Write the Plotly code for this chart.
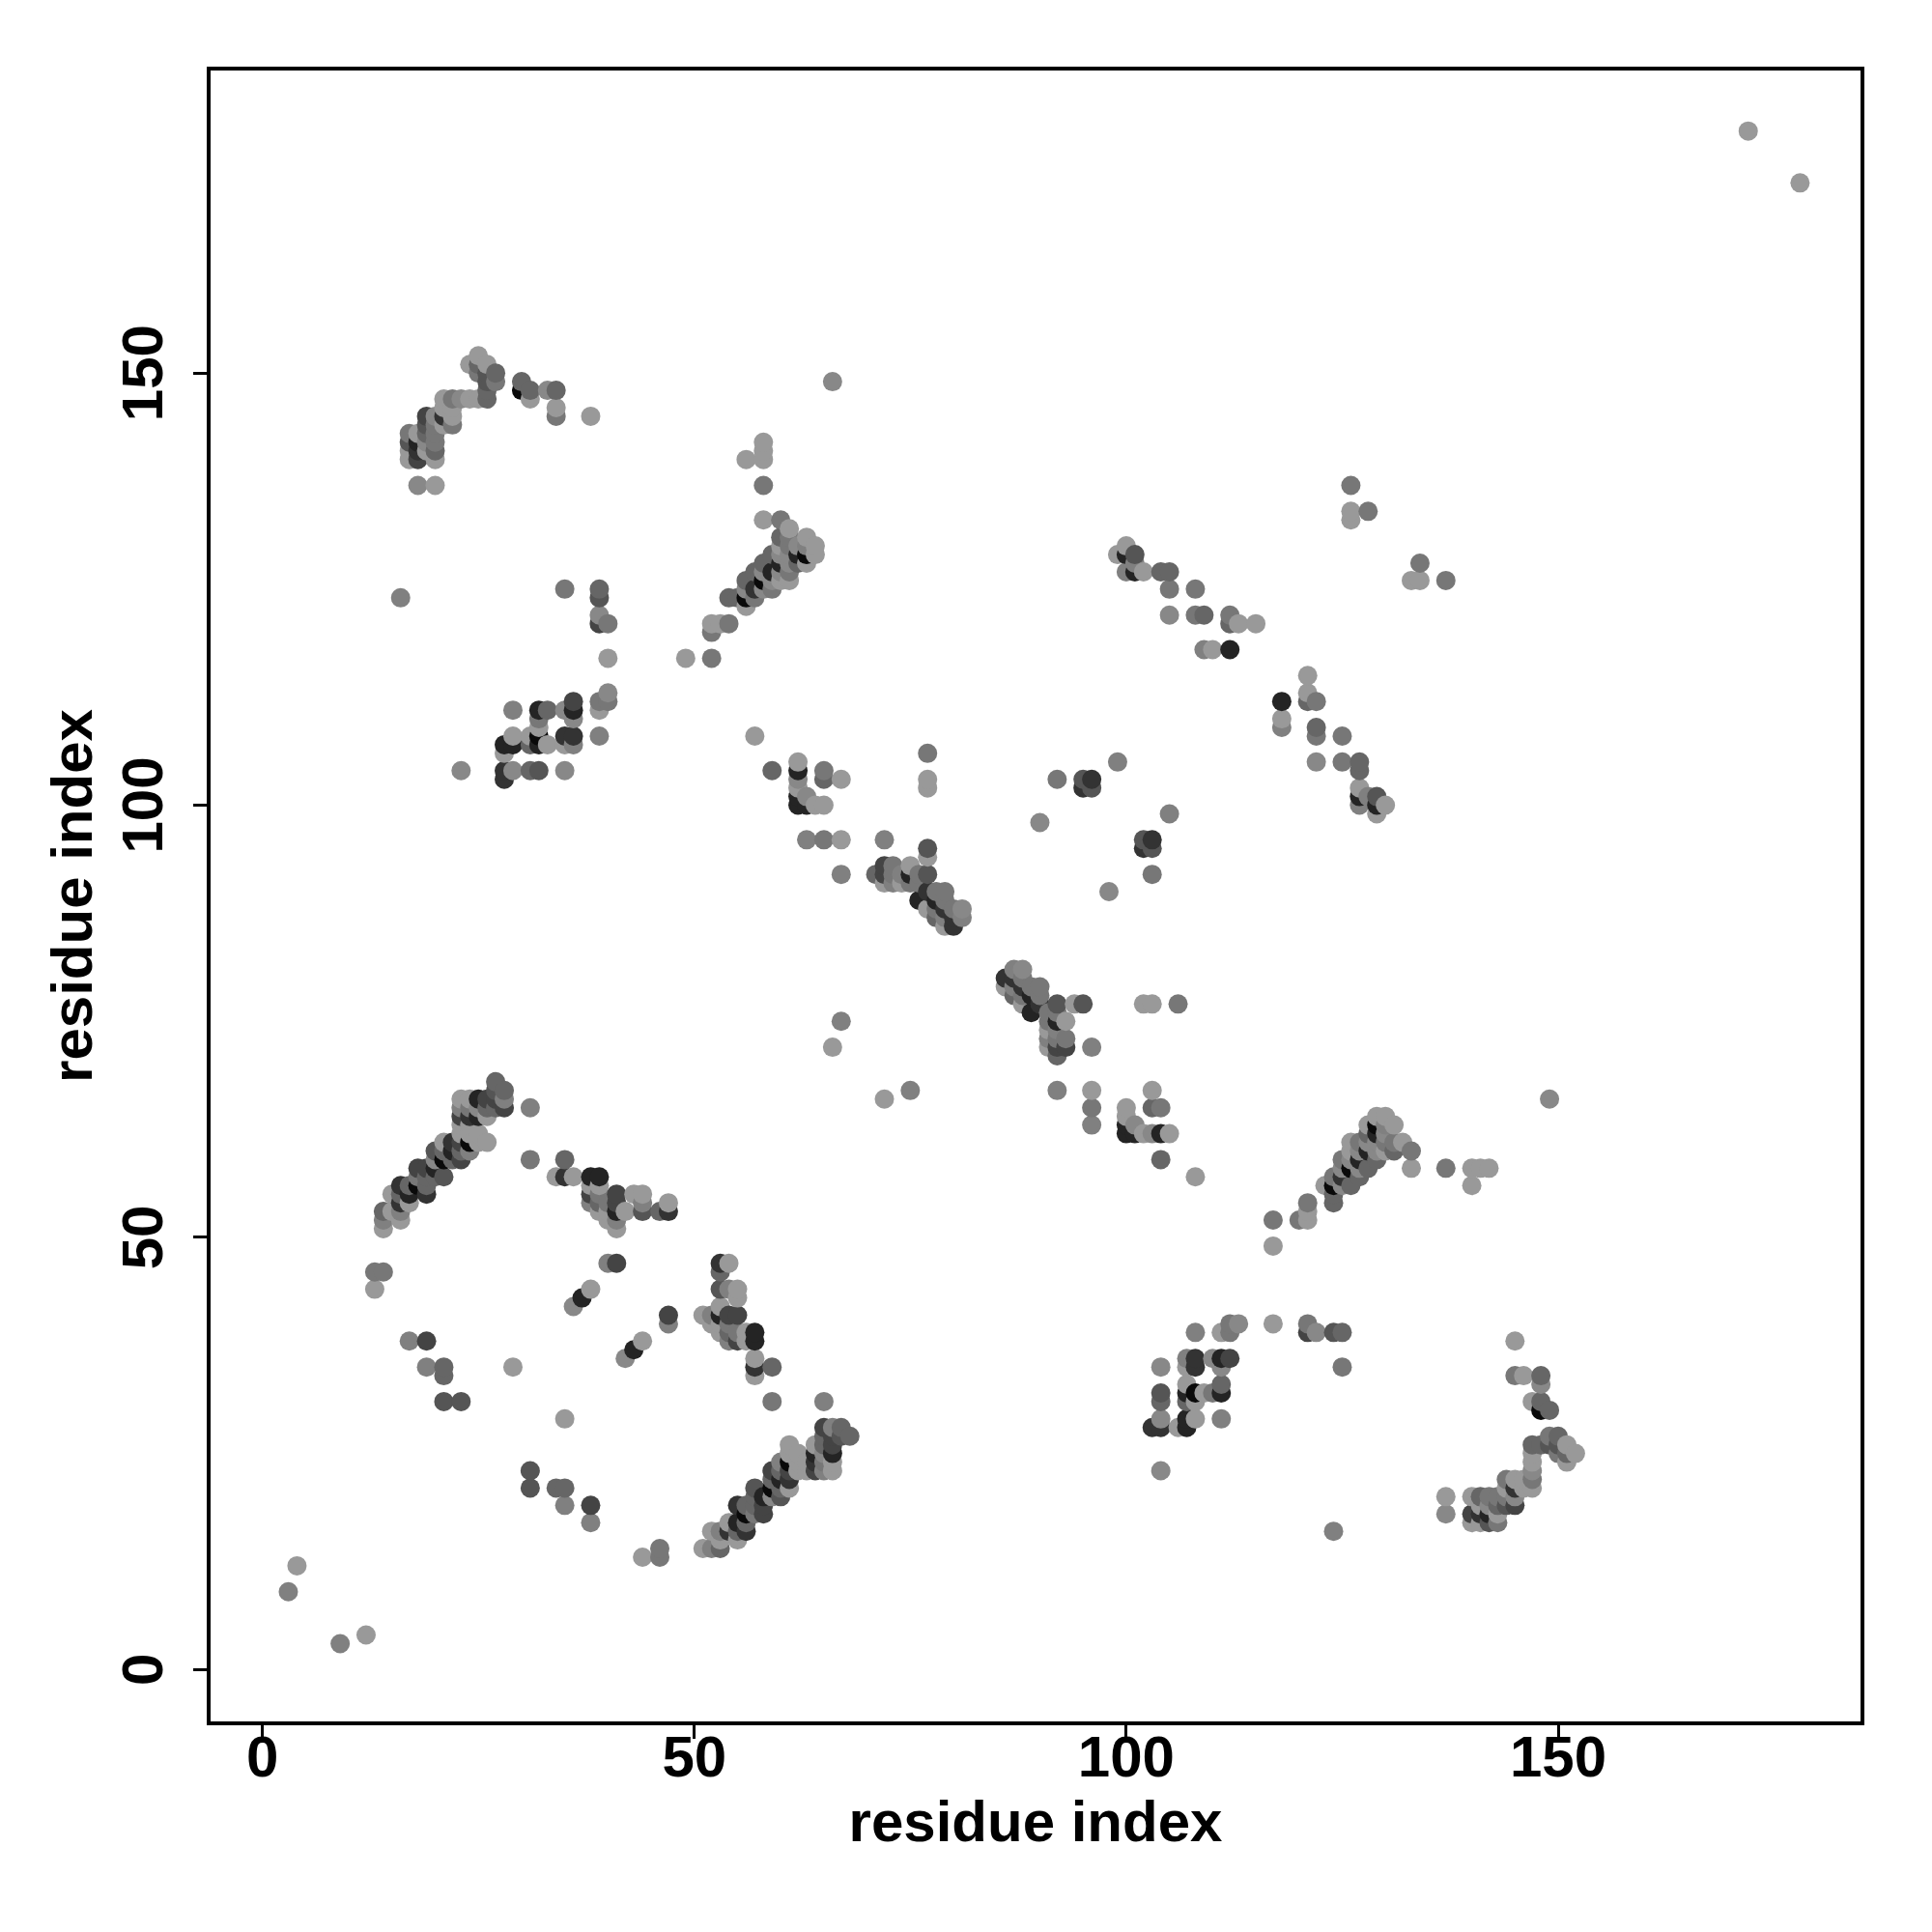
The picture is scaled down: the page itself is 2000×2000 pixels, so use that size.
import plotly.graph_objects as go

tick_values = [0, 50, 100, 150]
axis_label = "residue index"

# contacts (i<j) grouped by grey shade; the map is symmetric
shade_010 = [(30,148),(58,126),(63,129),(56,124),(18,56),(21,59),(32,108),(24,61)]
shade_036 = [(18,142),(28,107),(29,107),(32,111),(36,111),(32,107),(62,104),(62,101),(62,100),(63,100),
             (101,127),(100,129),(112,118),(59,127),(60,128),(62,129),(75,92),(76,89),(78,89),(22,60),
             (25,64),(25,66),(17,55),(20,58),(41,53),(37,43),(38,57),(39,57)]
shade_051 = [(18,141),(21,145),(28,104),(28,103),(35,108),(36,108),(57,125),(77,90),(79,88),(80,87),(80,86),
             (96,103),(95,102),(24,64),(22,61),(16,56),(16,54),(19,55),(35,57),(47,53)]
shade_068 = [(19,145),(18,140),(36,112),(39,121),(72,92),(72,93),(23,64),(23,61),(23,59),(19,58),(18,58),
             (27,66),(26,66),(28,65),(38,55),(41,55),(41,54),(41,47),(19,38)]
shade_085 = [(19,144),(26,150),(26,149),(17,142),(39,124),(32,104),(101,129),(77,92),(77,95),(27,67),(20,60),
             (44,53),(21,57),(21,31),(23,31),(95,103),(96,102)]
shade_102 = [(25,151),(27,150),(30,149),(31,148),(34,148),(26,148),(19,143),(20,141),(39,125),(33,111),(31,107),
             (31,104),(59,104),(65,103),(54,124),(55,124),(56,126),(57,127),(58,128),(59,129),(71,92),(78,87),
             (104,127),(105,127),(109,122),(112,121),(27,65),(26,65),(23,60),(22,59),(21,60),(19,57),(19,56),
             (17,56),(16,55),(14,53),(20,57),(46,53),(35,59),(39,54),(62,128),(60,131),(26,147),(28,67),
             (21,35),(21,34),(27,68)]
shade_119 = [(25,150),(22,147),(34,145),(22,144),(17,143),(20,143),(20,142),(20,144),(35,125),(32,110),(39,112),
             (40,112),(65,104),(58,137),(60,133),(52,120),(52,117),(61,131),(61,130),(57,124),(59,125),(73,93),
             (73,92),(76,92),(76,91),(75,91),(78,90),(79,90),(79,89),(80,88),(78,88),(105,125),(108,125),(108,122),
             (112,122),(24,65),(18,57),(31,59),(39,55),(40,54),(13,46),(14,46),(126,137),(128,134),(77,106),(92,103),
             (27,149),(61,127),(54,121),(65,96),(40,121)]
shade_128 = [(16,124),(29,111),(39,108),(63,96),(67,92),(67,75),(73,91),(74,92),(100,127),(101,128),(99,105),
             (109,118),(3,9),(38,54),(31,65),(23,65),(40,47),(17,38),(19,35),(14,52),(16,53),(44,54),(63,130),
             (79,87),(81,87),(72,96),(41,52),(24,60),(28,66),(36,107)]
shade_136 = [(18,137),(23,147),(39,122),(33,148),(35,111),(36,110),(29,104),(35,104),(23,104),
             (62,103),(63,101),(66,149),(90,98),(105,122),(60,129),(61,129),(61,128),(62,130),(58,127),(60,127),
             (59,126),(58,125),(56,125),(36,42),(40,113),(81,88),(20,145),(19,142),(25,65),(20,59)]
shade_153 = [(4,12),(172,178),(25,152),(24,151),(26,151),(21,147),(24,147),(25,147),(31,147),(34,146),(38,145),(21,146),(22,146),
             (22,145),(21,144),(20,140),(19,141),(18,143),(17,141),(17,140),(20,137),(40,117),(49,117),(52,121),
             (53,121),(32,109),(31,108),(29,108),(28,106),(33,107),(35,107),(39,111),(57,108),(62,105),
             (62,102),(64,100),(65,100),(67,103),(67,96),(66,72),(58,133),(61,132),(60,130),(63,131),(63,128),
             (64,130),(64,129),(61,126),(60,126),(56,123),(56,140),(58,142),(58,141),(58,140),(72,91),(74,91),
             (75,93),(77,94),(77,88),(79,86),(77,103),(77,102),(99,129),(100,130),(102,127),(113,121),
             (115,121),(110,118),(126,134),(126,133),(23,66),(24,66),(23,63),(24,63),(24,62),(23,62),(25,62),
             (25,61),(26,61),(26,64),(21,61),(17,54),(15,55),(15,53),(16,52),(14,51),(34,57),(36,57),(38,56),
             (39,56),(39,53),(40,53),(40,52),(41,51),(42,53),(43,55),(44,55),(47,54),(13,44),(38,44),(29,35)]

shades = {10: shade_010, 36: shade_036, 51: shade_051, 68: shade_068, 85: shade_085, 102: shade_102,
          119: shade_119, 128: shade_128, 136: shade_136, 153: shade_153}

points = {}
for grey, pairs in shades.items():
    for a, b in pairs:
        points[(a, b)] = grey
        points[(b, a)] = grey
ordered = sorted(points)
xs = [p[0] for p in ordered]
ys = [p[1] for p in ordered]
colors = [f"rgb({points[p]},{points[p]},{points[p]})" for p in ordered]

fig = go.Figure(go.Scatter(x=xs, y=ys, mode="markers",
                           marker=dict(size=20, color=colors, line=dict(width=0)),
                           hoverinfo="skip"))
font = dict(family="Liberation Sans", size=60, color="black", weight="bold")
axis = dict(range=[-6, 185], tickmode="array", tickvals=tick_values, ticks="outside", ticklen=14, tickwidth=3,
            tickcolor="black", showgrid=False, zeroline=False, showline=True, linecolor="black", linewidth=4,
            mirror=True, tickfont=font)
fig.update_xaxes(**axis, ticklabelstandoff=-33, automargin=True, title=dict(text=axis_label, font=font, standoff=2))
fig.update_yaxes(**axis, tickangle=-90, ticklabelstandoff=8, ticklabelshift=9,
                 title=dict(text=axis_label, font=font, standoff=0))
fig.update_layout(width=1992, height=1992, autosize=False, showlegend=False,
                  margin=dict(l=210, r=74, t=65, b=218),
                  paper_bgcolor="white", plot_bgcolor="white")
fig.write_html("out.html")
